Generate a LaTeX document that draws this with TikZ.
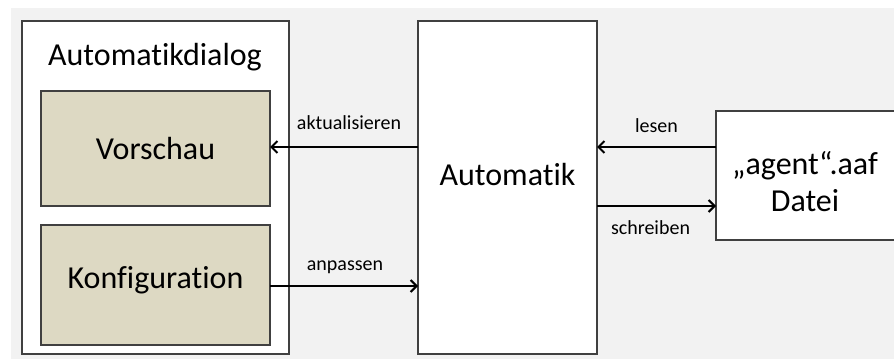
\documentclass[tikz,border=0pt]{standalone}
\usepackage{fontspec}
\setmainfont{Carlito}[Ligatures={NoCommon}]
\usetikzlibrary{arrows.meta}
\definecolor{bg}{HTML}{F2F2F2}
\definecolor{beige}{HTML}{DDD9C3}
\definecolor{edge}{HTML}{404040}
\begin{document}
\begin{tikzpicture}[x=1pt,y=-1pt,
  boxw/.style={draw=edge,line width=1.3pt,fill=white},
  boxb/.style={draw=edge,line width=1.3pt,fill=beige},
  big/.style={font=\fontsize{32}{37}\selectfont},
  lbl/.style={font=\fontsize{20}{24}\selectfont},
  conn/.style={line width=2pt,-{Straight Barb[length=6pt,width=12pt,line width=2pt]}}]
\useasboundingbox (0,0) rectangle (894,359);
\fill[bg] (11,8) rectangle (894,359);
% outer dialog
\draw[boxw] (22,21) rectangle (289,354);
\node[big] (dlgt) at (155,57) {Automatikdialog};
\draw[boxb] (41,91) rectangle (270,206);
\node[big] (vor) at (155.5,148.5) {Vorschau};
\coordinate (vorR) at (270,147);
\draw[boxb] (41,225) rectangle (270,345);
\node[big] (konf) at (155.5,280) {Konfiguration};
\coordinate (konfR) at (270,286);
% Automatik
\draw[boxw] (418,21) rectangle (597,354);
\node[big] (auto) at (507.5,175) {Automatik};
\coordinate (autoL1) at (418,147);
\coordinate (autoL2) at (418,286);
\coordinate (autoR1) at (597,147);
\coordinate (autoR2) at (597,206);
% Datei
\draw[boxw] (716,111) rectangle (896,240);
\node[big,align=center] (datei) at (805,181.5) {„agent“.aaf\\Datei};
\coordinate (dateiL1) at (716,147);
\coordinate (dateiL2) at (716,206);
% connectors
\draw[conn] (autoL1) -- node[lbl,yshift=24pt,xshift=5pt] (l1) {aktualisieren} (vorR);
\draw[conn] (konfR) -- node[lbl,yshift=19pt,xshift=1pt] (l2) {anpassen} (autoL2);
\draw[conn] (dateiL1) -- node[lbl,yshift=21pt] (l3) {lesen} (autoR1);
\draw[conn] (autoR2) -- node[lbl,yshift=-22pt,xshift=-6pt] (l4) {schreiben} (dateiL2);
\end{tikzpicture}
\end{document}
